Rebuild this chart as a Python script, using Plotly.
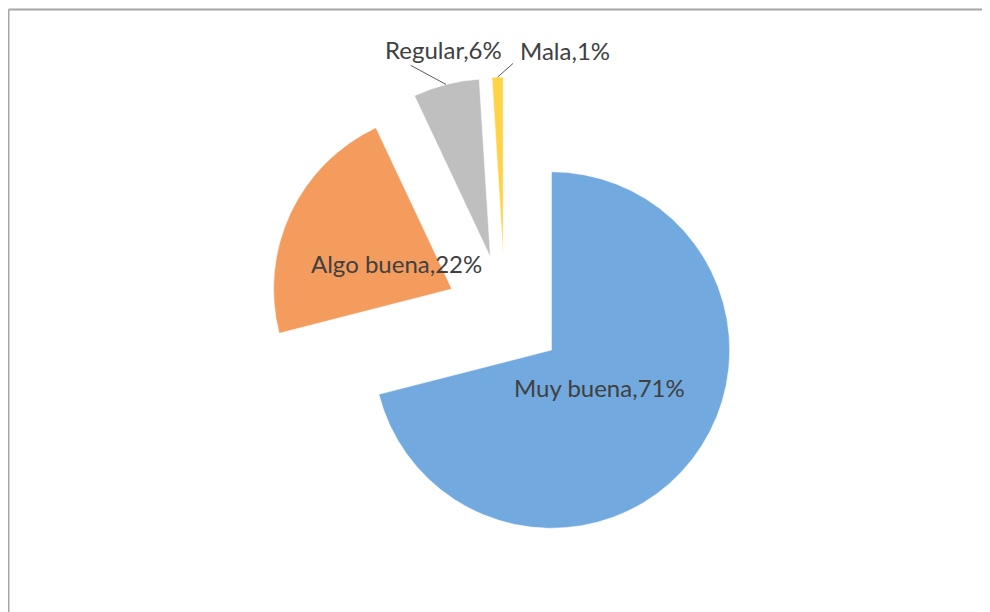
import math
import plotly.graph_objects as go

categories = ["Muy buena", "Algo buena", "Regular", "Mala"]
values = [71, 22, 6, 1]
colors = ["#72A9DF", "#F39C5E", "#BFBFBF", "#FFD347"]
inside = [True, True, False, False]

PULL = 0.33
# figure sits 8px in from the page corner (body margin), so shift everything by that
OFF = 8
W, H = 990, 612
L, R, T, B = 268 - OFF, 248 + OFF, 77 - OFF, 61 + OFF
pw, ph = W - L - R, H - T - B
r_px = min(pw, ph) / 2 / (1 + PULL)


def px(x):
    return (x - OFF - L) / pw


def py(y):
    return (H - B - (y - OFF)) / ph


def polar(theta_deg, dist_px):
    # clockwise from 12 o'clock, pie centred in the plot area
    t = math.radians(theta_deg)
    return 0.5 + dist_px * math.sin(t) / pw, 0.5 + dist_px * math.cos(t) / ph


fig = go.Figure(go.Pie(
    labels=categories,
    values=values,
    sort=False,
    direction="clockwise",
    rotation=0,
    pull=[PULL] * len(values),
    marker=dict(colors=colors, line=dict(color="white", width=0.5)),
    textinfo="none",
    automargin=False,
    showlegend=False,
    hoverinfo="label+percent",
))

font = dict(family="Lato", size=24, color="#404040")
# outside labels: (text shift, leader line offset) in px from the slice rim
outside_offsets = {2: ((-3, 35), (-37, -20)), 3: ((67, 27), (17, -15))}

annotations = []
total = sum(values)
start = 0.0
for i, (cat, v) in enumerate(zip(categories, values)):
    span = 360.0 * v / total
    mid = start + span / 2
    start += span
    text = f"{cat},{round(100 * v / total)}%"
    if inside[i]:
        x, y = polar(mid, r_px * (PULL + 0.34))
        annotations.append(dict(x=x, y=y, xref="paper", yref="paper", text=text,
                                xanchor="center", yanchor="middle",
                                showarrow=False, font=font))
    else:
        x, y = polar(mid, r_px * (1 + PULL))
        (sx, sy), (ax, ay) = outside_offsets[i]
        annotations.append(dict(x=x, y=y, xref="paper", yref="paper", text=text,
                                xanchor="center", yanchor="middle",
                                showarrow=False, xshift=sx, yshift=sy, font=font))
        annotations.append(dict(x=x, y=y, xref="paper", yref="paper", text="",
                                showarrow=True, arrowhead=0, arrowwidth=1,
                                arrowcolor="#595959", ax=ax, ay=ay))

border = "#A6A6A6"
fig.update_layout(
    width=W,
    height=H,
    margin=dict(l=L, r=R, t=T, b=B, autoexpand=False),
    paper_bgcolor="white",
    plot_bgcolor="white",
    annotations=annotations,
    shapes=[
        dict(type="line", xref="paper", yref="paper",
             x0=px(8.5), x1=px(1000), y0=py(9.5), y1=py(9.5),
             line=dict(color=border, width=2)),
        dict(type="line", xref="paper", yref="paper",
             x0=px(8.5), x1=px(8.5), y0=py(9.5), y1=py(620),
             line=dict(color=border, width=2)),
    ],
)

fig.write_html("out.html")
